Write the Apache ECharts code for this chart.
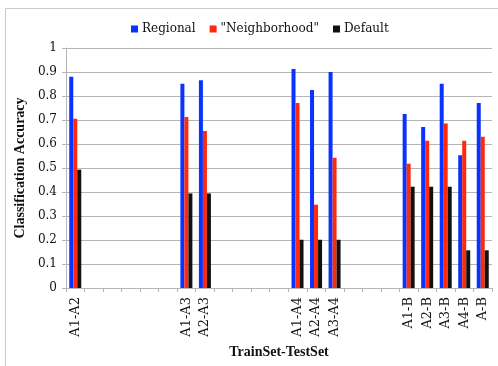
<!DOCTYPE html>
<html>
<head>
<meta charset="utf-8">
<script src="https://cdn.jsdelivr.net/npm/echarts@6/dist/echarts.min.js"></script>
<style>html,body{margin:0;padding:0;background:#fff;}#c{width:498px;height:366px;}</style>
</head>
<body>
<div id="c"></div>
<script>
var categories = ['A1-A2','','','','','','A1-A3','A2-A3','','','','','A1-A4','A2-A4','A3-A4','','','','A1-B','A2-B','A3-B','A4-B','A-B'];
var regional =     [0.880,null,null,null,null,null,0.851,0.866,null,null,null,null,0.912,0.825,0.900,null,null,null,0.725,0.671,0.851,0.553,0.771];
var neighborhood = [0.705,null,null,null,null,null,0.712,0.654,null,null,null,null,0.771,0.347,0.543,null,null,null,0.518,0.614,0.685,0.614,0.630];
var defaults =     [0.493,null,null,null,null,null,0.394,0.394,null,null,null,null,0.201,0.201,0.201,null,null,null,0.422,0.422,0.422,0.157,0.157];
var seriesNames = ['Regional','"Neighborhood"','Default'];
var colors = ['#0a33ff','#ff2a0a','#111111'];

var chart = echarts.init(document.getElementById('c'), null, {renderer:'canvas'});
var serif = 'DejaVu Serif';
var mk = function(name, data, color){
  return {name:name, type:'bar', data:data, barWidth:4, barGap:'0%', itemStyle:{color:color}, animation:false};
};
chart.setOption({
  animation:false,
  textStyle:{fontFamily:serif},
  graphic:[{type:'rect', shape:{x:5.5,y:8.5,width:600,height:500}, style:{fill:'none',stroke:'#c8c8c8',lineWidth:1}, silent:true}],
  legend:{
    top:18, left:126, icon:'rect', itemWidth:7, itemHeight:7, itemGap:14,
    textStyle:{fontFamily:serif, fontSize:12, color:'#111', padding:[0,0,0,-1]},
    data:seriesNames
  },
  grid:{left:66, right:6, top:48, bottom:78, containLabel:false},
  xAxis:{
    type:'category', data:categories,
    name:'TrainSet-TestSet', nameLocation:'middle', nameGap:57,
    nameTextStyle:{fontFamily:'Liberation Serif', fontSize:14, fontWeight:'bold', color:'#111'},
    axisLine:{lineStyle:{color:'#b5b5b5'}},
    axisTick:{show:true, length:4, alignWithLabel:false, interval:0, lineStyle:{color:'#b5b5b5'}},
    axisLabel:{rotate:90, interval:0, fontFamily:serif, fontSize:13, color:'#111', margin:9}
  },
  yAxis:{
    type:'value', min:0, max:1, interval:0.1,
    name:'Classification Accuracy', nameLocation:'middle', nameGap:30,
    nameTextStyle:{fontFamily:'Liberation Serif', fontSize:14, fontWeight:'bold', color:'#111'},
    axisLine:{show:true, lineStyle:{color:'#b5b5b5'}},
    axisTick:{show:true, length:4, lineStyle:{color:'#b5b5b5'}},
    splitLine:{lineStyle:{color:'#b5b5b5'}},
    axisLabel:{fontFamily:serif, fontSize:12, color:'#111', margin:9,
      formatter:function(v){return String(Math.round(v*10)/10);}}
  },
  series:[mk(seriesNames[0],regional,colors[0]), mk(seriesNames[1],neighborhood,colors[1]), mk(seriesNames[2],defaults,colors[2])]
});
</script>
</body>
</html>
